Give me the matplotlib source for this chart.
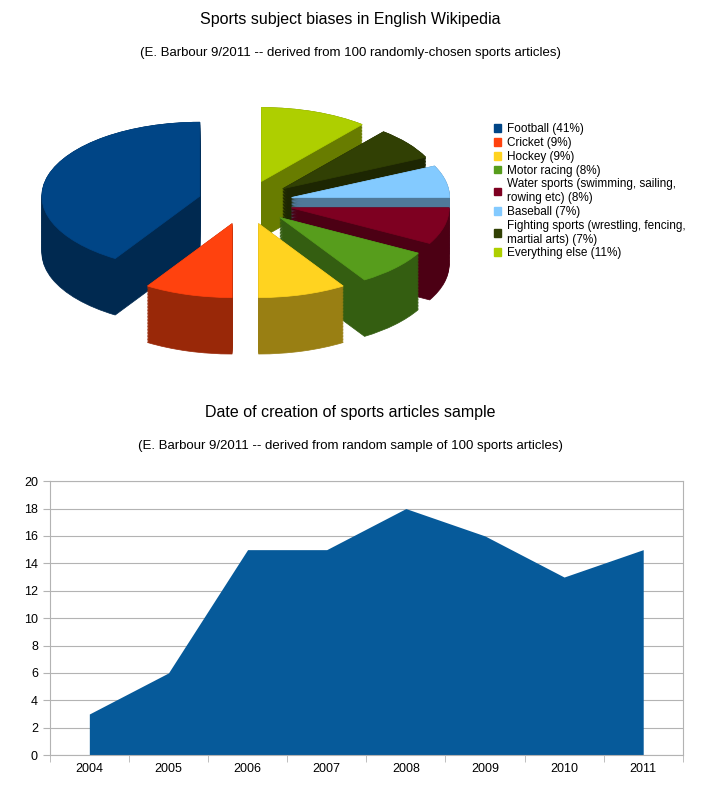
import matplotlib
matplotlib.use("Agg")
import matplotlib.pyplot as plt
import numpy as np
from matplotlib.patches import Wedge
import matplotlib.colors as mc
from matplotlib.transforms import Affine2D

pie_labels = ["Football (41%)", "Cricket (9%)", "Hockey (9%)", "Motor racing (8%)",
              "Water sports (swimming, sailing,\nrowing etc) (8%)", "Baseball (7%)",
              "Fighting sports (wrestling, fencing,\nmartial arts) (7%)", "Everything else (11%)"]
pie_values = [41, 9, 9, 8, 8, 7, 7, 11]
pie_colors = ["#004586", "#ff420e", "#ffd320", "#579d1c", "#7e0021", "#83caff", "#314004", "#aecf00"]

years = ["2004", "2005", "2006", "2007", "2008", "2009", "2010", "2011"]
counts = [3, 6, 15, 15, 18, 16, 13, 15]

fig = plt.figure(figsize=(7.01, 7.94), dpi=100)
fig.text(0.5, 0.975, "Sports subject biases in English Wikipedia", ha="center", va="center", fontsize=11.5, family="Liberation Sans")
fig.text(0.5, 0.933, "(E. Barbour 9/2011 -- derived from 100 randomly-chosen sports articles)", ha="center", va="center", fontsize=9.5, family="Liberation Sans")
fig.text(0.5, 0.480, "Date of creation of sports articles sample", ha="center", va="center", fontsize=11.5, family="Liberation Sans")
fig.text(0.5, 0.438, "(E. Barbour 9/2011 -- derived from random sample of 100 sports articles)", ha="center", va="center", fontsize=9.5, family="Liberation Sans")

# pseudo-3D pie
ax = fig.add_axes([0.03, 0.515, 0.64, 0.375])
ax.set_xlim(-1.42, 1.42)
ax.set_ylim(-1.78, 1.12)
ax.axis("off")
sq = 0.72
depth = 0.55
total = sum(pie_values)
start = 90.0
wedges = []
for v, c in zip(pie_values, pie_colors):
    ang = 360.0 * v / total
    mid = np.radians(start + ang / 2)
    ex = 0.3
    cx, cy = ex * np.cos(mid), ex * np.sin(mid)
    wedges.append((start, start + ang, cx, cy, c))
    start += ang
order = sorted(range(len(wedges)), key=lambda i: -wedges[i][3])
for i in order:
    t1, t2, cx, cy, c = wedges[i]
    dark = tuple(np.array(mc.to_rgb(c)) * 0.6)
    tr = Affine2D().scale(1, sq) + ax.transData
    n = 40
    for k in range(n):
        dy = -depth * (1 - k / (n - 1))
        ax.add_patch(Wedge((cx, cy + dy / sq), 1.0, t1, t2, facecolor=dark, edgecolor=dark, lw=0.5, transform=tr))
    ax.add_patch(Wedge((cx, cy), 1.0, t1, t2, facecolor=c, edgecolor=c, lw=0.5, transform=tr))

handles = [plt.Rectangle((0, 0), 1, 1, color=c) for c in pie_colors]
fig.legend(handles, pie_labels, loc="upper left", bbox_to_anchor=(0.69, 0.858), frameon=False,
           handlelength=0.6, handleheight=0.6, handletextpad=0.5, labelspacing=0.15,
           prop={"family": "Liberation Sans", "size": 8.5})

# area chart
ax2 = fig.add_axes([0.071, 0.049, 0.903, 0.345])
x = np.arange(len(years))
ax2.fill_between(x, counts, 0, color="#065a9a", lw=0, zorder=2)
ax2.set_xlim(-0.5, len(years) - 0.5)
ax2.set_ylim(0, 20)
ax2.set_yticks(range(0, 21, 2))
ax2.set_xticks(x)
ax2.set_xticklabels(years)
ax2.set_xticks(np.arange(-0.5, len(years), 1), minor=True)
ax2.tick_params(axis="x", which="major", length=0, pad=6)
ax2.tick_params(axis="x", which="minor", length=5, color="#b3b3b3")
ax2.tick_params(axis="y", length=5, color="#b3b3b3")
ax2.grid(axis="y", color="#b3b3b3", lw=0.8, zorder=0)
for s in ax2.spines.values():
    s.set_color("#b3b3b3")
for lab in ax2.get_xticklabels() + ax2.get_yticklabels():
    lab.set_family("Liberation Sans")
    lab.set_fontsize(9)
fig.savefig("out.png", dpi=100)
